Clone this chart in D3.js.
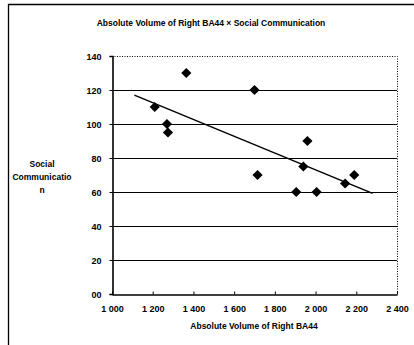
<!DOCTYPE html>
<html>
<head>
<meta charset="utf-8">
<script src="https://cdn.jsdelivr.net/npm/d3@7"></script>
<style>
  body { margin: 0; background: #fff; }
  text { font-family: "Liberation Sans", Arial, sans-serif; font-weight: bold; fill: #000; }
</style>
</head>
<body>
<svg id="chart"></svg>
<script>
// data
const volume = [1210, 1270, 1275, 1365, 1700, 1715, 1905, 1940, 1960, 2005, 2145, 2190];
const socialComm = [110, 100, 95, 130, 120, 70, 60, 75, 90, 60, 65, 70];
const trendX = [1110, 2280];
const trendY = [117, 59.2];
const xTicks = [1000, 1200, 1400, 1600, 1800, 2000, 2200, 2400];
const xTickLabels = ["1 000", "1 200", "1 400", "1 600", "1 800", "2 000", "2 200", "2 400"];
const yTicks = [0, 20, 40, 60, 80, 100, 120, 140];
const yTickLabels = ["00", "20", "40", "60", "80", "100", "120", "140"];

const width = 414;
const height = 345;
const plot = { left: 112, right: 397, top: 56, bottom: 294 };

const svg = d3.select("#chart").attr("width", width).attr("height", height);

// outer frame (left and top edge only)
svg.append("path")
  .attr("d", `M8.5,${height} V4.5 H${width}`)
  .attr("fill", "none")
  .attr("stroke", "#000")
  .attr("stroke-width", 1.3);

const x = d3.scaleLinear().domain([1000, 2400]).range([plot.left, plot.right]);
const y = d3.scaleLinear().domain([0, 140]).range([plot.bottom, plot.top]);

// gridlines
svg.append("g")
  .selectAll("line")
  .data(yTicks.filter(d => d > 0 && d < 140))
  .enter()
  .append("line")
  .attr("x1", plot.left)
  .attr("x2", plot.right)
  .attr("y1", d => Math.round(y(d)) + 0.5)
  .attr("y2", d => Math.round(y(d)) + 0.5)
  .attr("stroke", "#000")
  .attr("stroke-width", 1.2);

// dotted top and right border
svg.append("path")
  .attr("d", `M${plot.left},${plot.top + 0.5} H${plot.right + 0.5} V${plot.bottom}`)
  .attr("fill", "none")
  .attr("stroke", "#000")
  .attr("stroke-width", 1)
  .attr("stroke-dasharray", "1,1.5");

// y axis
const yAxis = d3.axisLeft(y)
  .tickValues(yTicks)
  .tickSize(3)
  .tickPadding(8)
  .tickFormat((d, i) => yTickLabels[i]);

svg.append("g")
  .attr("transform", `translate(${plot.left + 0.5},0)`)
  .call(yAxis)
  .call(g => g.select(".domain").attr("stroke-width", 1.6))
  .call(g => g.selectAll("text").style("font-size", "9px").attr("dy", "0.35em"));

// x axis (ticks pointing inward)
const xAxis = d3.axisBottom(x)
  .tickValues(xTicks)
  .tickSizeInner(-3)
  .tickSizeOuter(0)
  .tickPadding(11)
  .tickFormat((d, i) => xTickLabels[i]);

svg.append("g")
  .attr("transform", `translate(0,${plot.bottom + 0.5})`)
  .call(xAxis)
  .call(g => g.select(".domain").attr("stroke-width", 1.6))
  .call(g => g.selectAll("text").style("font-size", "9px"));

// trend line
svg.append("line")
  .attr("x1", x(trendX[0]))
  .attr("y1", y(trendY[0]))
  .attr("x2", x(trendX[1]))
  .attr("y2", y(trendY[1]))
  .attr("stroke", "#000")
  .attr("stroke-width", 1.5);

// diamond markers
const points = volume.map((v, i) => ({ v: v, s: socialComm[i] }));
svg.append("g")
  .selectAll("path")
  .data(points)
  .enter()
  .append("path")
  .attr("d", d3.symbol().type(d3.symbolSquare).size(52))
  .attr("transform", d => `translate(${x(d.v)},${y(d.s)}) rotate(45)`)
  .attr("fill", "#000");

// titles
svg.append("text")
  .attr("x", 211)
  .attr("y", 26)
  .attr("text-anchor", "middle")
  .style("font-size", "8.5px")
  .text("Absolute Volume of Right BA44 \u00d7 Social Communication");

svg.append("text")
  .attr("x", 254)
  .attr("y", 329)
  .attr("text-anchor", "middle")
  .style("font-size", "8.5px")
  .text("Absolute Volume of Right BA44");

const yTitle = svg.append("text")
  .attr("text-anchor", "middle")
  .style("font-size", "8.5px");
["Social", "Communicatio", "n"].forEach((t, i) => {
  yTitle.append("tspan")
    .attr("x", 42)
    .attr("y", 167 + i * 13)
    .text(t);
});
</script>
</body>
</html>
